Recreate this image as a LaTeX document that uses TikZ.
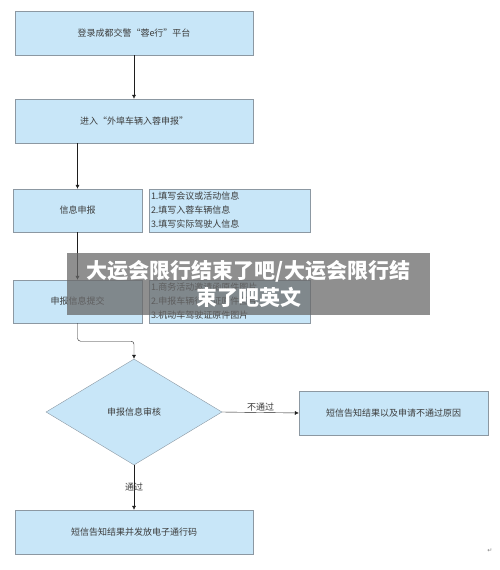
\documentclass[tikz,border=0pt]{standalone}
\usepackage{fontspec}
\newfontfamily\cjk{Noto Sans CJK SC}
\newfontfamily\symfont{DejaVu Sans}
\usetikzlibrary{arrows.meta,shapes.geometric}
\tikzset{
  stepbox/.style={draw=boxline,fill=boxfill,text=textcolor,inner sep=0pt,
    font=\cjk\fontsize{9}{11}\selectfont},
  notebox/.style={draw=boxline,fill=boxfill,text=textcolor,inner xsep=2pt,
    inner ysep=0pt,text width=157pt,minimum height=43pt,align=left,
    font=\cjk\fontsize{9}{14}\selectfont},
  checkbox/.style={stepbox,shape=diamond,minimum width=176pt,minimum height=106pt},
  flow/.style={draw=linecolor,thin,-{Latex[length=4pt,width=4pt]}},
  flowlabel/.style={text=textcolor,inner sep=1pt,font=\cjk\fontsize{9}{11}\selectfont},
}
\begin{document}
\begin{tikzpicture}[x=1pt,y=-1pt]
\definecolor{boxfill}{RGB}{200,230,248}
\definecolor{boxline}{RGB}{140,152,162}
\definecolor{textcolor}{RGB}{60,60,60}
\definecolor{linecolor}{RGB}{30,30,30}
\definecolor{bannergray}{RGB}{105,105,105}
\useasboundingbox (0,0) rectangle (500,570);
% main steps
\node (login) [stepbox,minimum width=238pt,minimum height=44pt] at (134,33) {登录成都交警“蓉e行”平台};
\node (enter) [stepbox,minimum width=238pt,minimum height=44pt] at (134,121) {进入“外埠车辆入蓉申报”};
\node (report) [stepbox,minimum width=129pt,minimum height=43pt] at (77.5,210.5) {信息申报};
\node (reportnote) [notebox] at (229.5,210.5) {1.填写会议或活动信息\\2.填写入蓉车辆信息\\3.填写实际驾驶人信息};
\node (submit) [stepbox,minimum width=129pt,minimum height=43pt] at (77.5,301.5) {申报信息提交};
\node (submitnote) [notebox] at (229.5,301.5) {1.商务活动邀请函原件图片\\2.申报车辆行驶证原件图片\\3.机动车驾驶证原件图片};
\node (audit) [checkbox] at (134,412) {申报信息审核};
\node (fail) [stepbox,minimum width=189pt,minimum height=44pt] at (393.5,413) {短信告知结果以及申请不通过原因};
\node (pass) [stepbox,minimum width=238pt,minimum height=44pt] at (134,532) {短信告知结果并发放电子通行码};
% connectors
\draw [flow] (login) -- (enter);
\draw [flow] (enter.south -| report.north) -- (report.north);
\draw [flow] (report) -- (submit);
\draw [flow,rounded corners=3pt] (submit.south) -- ++(0,18) -| (audit.north);
\draw [flow] (audit.east) -- node [flowlabel,above] {不通过} (fail.west);
\draw [flow] (audit.south) -- node [flowlabel] {通过} (pass.north);
% paragraph mark
\node (mark) [text=gray,font=\symfont\fontsize{6}{7}\selectfont] at (490,551) {↵};
% overlay title
\node (banner) [fill=bannergray,fill opacity=0.75,text opacity=1,text=white,
  minimum width=363pt,minimum height=62pt,align=center,
  font=\cjk\bfseries\fontsize{21}{27}\selectfont] at (248.5,284)
  {大运会限行结束了吧/大运会限行结\\束了吧英文};
\end{tikzpicture}
\end{document}
